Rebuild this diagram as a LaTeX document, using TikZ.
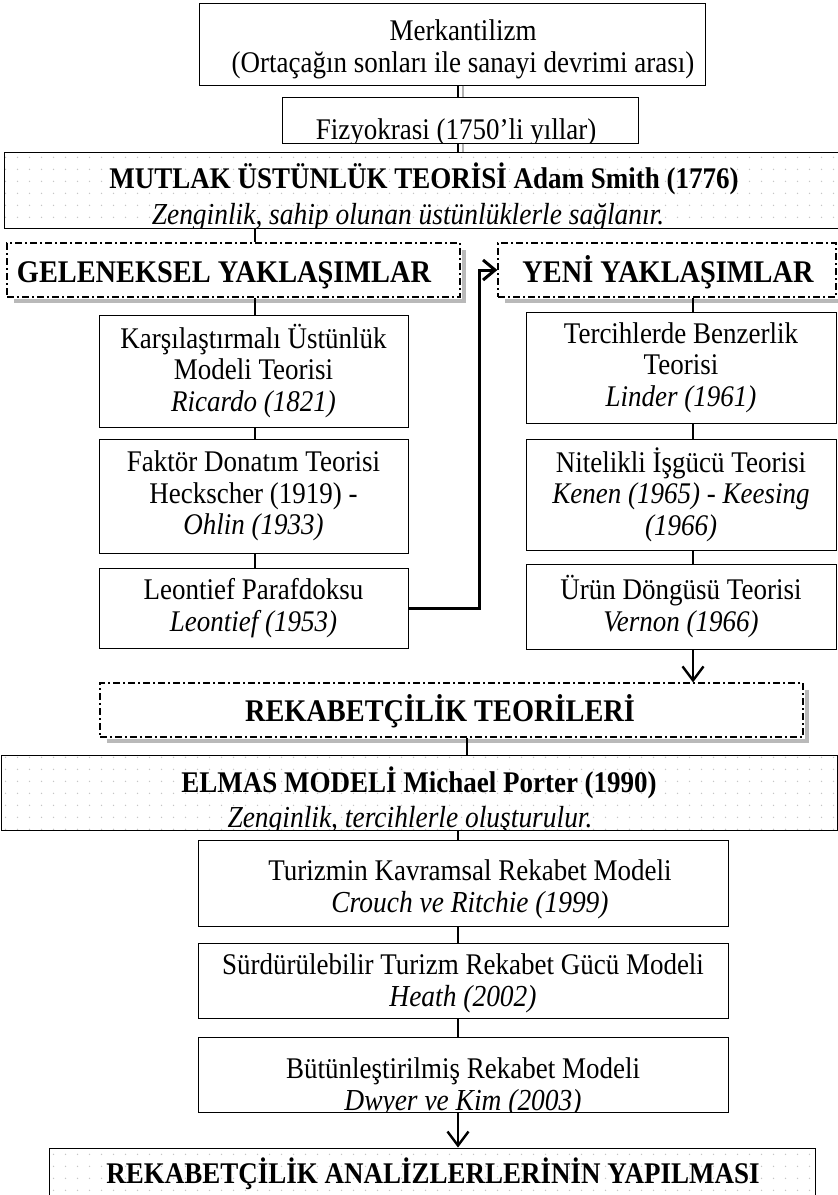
\documentclass[tikz,border=0pt]{standalone}
\usepackage{fontspec}
\setmainfont{Liberation Serif}[FakeStretch=0.9]
\usetikzlibrary{arrows.meta,patterns.meta,calc}
\tikzdeclarepattern{name=sparsedots, type=uncolored,
  bounding box={(0pt,0pt) and (12pt,12pt)}, tile size={(12pt,12pt)},
  code={\fill (6pt,6pt) circle (0.8pt);}}
\tikzset{
  plainbox/.style={draw, line width=1pt, align=center, inner sep=0pt, fill=white},
  dotbox/.style={draw, line width=1pt, inner sep=0pt, pattern=sparsedots, pattern color=gray!45},
  dashbox/.style={draw, line width=1.2pt, inner sep=0pt, fill=white, align=center,
    dash pattern=on 7pt off 3pt on 2pt off 3pt},
  shadowline/.style={draw=gray!55, line width=4pt},
  conn/.style={line width=2.4pt},
  grayconn/.style={draw=gray!60, line width=2pt},
  thickconn/.style={line width=3pt},
  arr/.style={line width=2.4pt, -{Straight Barb[length=14pt,width=21pt]}},
  txt/.style={inner sep=0pt, anchor=base, align=center},
  boldtxt/.style={txt, font=\fontsize{30}{32}\selectfont\bfseries},
  headtxt/.style={txt, font=\fontsize{31.5}{33}\selectfont\bfseries},
  ittxt/.style={txt, font=\fontsize{30.5}{32}\selectfont\itshape}
}
\begin{document}
\begin{tikzpicture}[x=1pt,y=-1pt, font=\fontsize{30}{31.5}\selectfont]
\useasboundingbox[fill=white] (0,0) rectangle (838,1195);
% coordinates for connector columns
\coordinate (cx) at (458,0);
\coordinate (gx) at (463,0);
\coordinate (lx) at (255,0);
\coordinate (rx) at (693,0);
\coordinate (ex) at (467,0);
\coordinate (bx) at (479,0);

% top boxes
\node[plainbox, minimum width=506pt, minimum height=82pt] (merk) at (452,44) {};
\node[txt] (merk1) at (463,40) {Merkantilizm};
\node[txt] (merk2) at (463,72) {(Ortaçağın sonları ile sanayi devrimi arası)};
\node[plainbox, minimum width=356pt, minimum height=46pt] (fiz) at (460,120) {};
\begin{scope}
  \clip (fiz.north west) rectangle (fiz.south east);
  \node[txt] (fizt) at (456,139) {Fizyokrasi (1750’li yıllar)};
\end{scope}

% Mutlak
\node[dotbox, minimum width=834pt, minimum height=76pt] (mut) at (421,190) {};
\begin{scope}
  \clip (mut.north west) rectangle (mut.south east);
  \node[boldtxt] (mut1) at (424,188) {MUTLAK ÜSTÜNLÜK TEORİSİ Adam Smith (1776)};
  \node[ittxt] (mut2) at (408,224) {Zenginlik, sahip olunan üstünlüklerle sağlanır.};
\end{scope}

% approach boxes
\draw[shadowline] (464,250) -- (464,301) -- (14,301);
\node[dashbox, minimum width=453pt, minimum height=54pt] (gel) at (233.5,270) {};
\node[headtxt] (gelt) at (224,282) {GELENEKSEL YAKLAŞIMLAR};
\draw[shadowline] (840,250) -- (840,301) -- (505,301);
\node[dashbox, minimum width=338pt, minimum height=54pt] (yeni) at (667,270) {};
\node[headtxt] (yenit) at (668,282) {YENİ YAKLAŞIMLAR};

% left column
\node[plainbox, minimum width=309pt, minimum height=112pt] (kar) at (253.5,371)
  {Karşılaştırmalı Üstünlük\\Modeli Teorisi\\\textit{Ricardo (1821)}};
\node[plainbox, minimum width=309pt, minimum height=114pt] (fak) at (253.5,496)
  {Faktör Donatım Teorisi\\Heckscher (1919) -\\\textit{Ohlin (1933)}};
\node[plainbox, minimum width=309pt, minimum height=80pt] (leo) at (253.5,608)
  {Leontief Parafdoksu\\\textit{Leontief (1953)}};

% right column
\node[plainbox, minimum width=310pt, minimum height=111pt] (ter) at (681,367.5)
  {Tercihlerde Benzerlik\\Teorisi\\\textit{Linder (1961)}};
\node[plainbox, minimum width=310pt, minimum height=111pt] (nit) at (681,494.5)
  {Nitelikli İşgücü Teorisi\\\textit{Kenen (1965) - Keesing}\\\textit{(1966)}};
\node[plainbox, minimum width=310pt, minimum height=85pt] (urun) at (681,606.5)
  {Ürün Döngüsü Teorisi\\\textit{Vernon (1966)}};

% Rekabetcilik teorileri
\draw[shadowline] (807,690) -- (807,741) -- (107,741);
\node[dashbox, minimum width=703pt, minimum height=54pt] (rek) at (451.5,710) {};
\node[headtxt] (rekt) at (440,721) {REKABETÇİLİK TEORİLERİ};

% Elmas
\node[dotbox, minimum width=836pt, minimum height=75pt] (elm) at (419,792.5) {};
\begin{scope}
  \clip (elm.north west) rectangle (elm.south east);
  \node[boldtxt] (elm1) at (419,792) {ELMAS MODELİ Michael Porter (1990)};
  \node[ittxt] (elm2) at (410,827) {Zenginlik, tercihlerle oluşturulur.};
\end{scope}

% lower column
\node[plainbox, minimum width=530pt, minimum height=86pt] (tur) at (463,883) {};
\node[txt] (tur1) at (470,880) {Turizmin Kavramsal Rekabet Modeli};
\node[ittxt] (tur2) at (470,912) {Crouch ve Ritchie (1999)};
\node[plainbox, minimum width=530pt, minimum height=75pt] (sur) at (463,980.5) {};
\node[txt] (sur1) at (463,974) {Sürdürülebilir Turizm Rekabet Gücü Modeli};
\node[ittxt] (sur2) at (463,1006) {Heath (2002)};
\node[plainbox, minimum width=530pt, minimum height=75pt] (but) at (463,1074.5) {};
\begin{scope}
  \clip (but.north west) rectangle (but.south east);
  \node[txt] (but1) at (463,1078) {Bütünleştirilmiş Rekabet Modeli};
  \node[ittxt] (but2) at (463,1110) {Dwyer ve Kim (2003)};
\end{scope}

% final box
\node[dotbox, minimum width=766pt, minimum height=60pt] (son) at (432,1178) {};
\node[boldtxt] (sont) at (433,1183) {REKABETÇİLİK ANALİZLERLERİNİN YAPILMASI};

% connectors
\draw[grayconn] (merk.south -| gx) -- (fiz.north -| gx);
\draw[grayconn] (fiz.south -| gx) -- (mut.north -| gx);
\draw[conn] (merk.south -| cx) -- (fiz.north -| cx);
\draw[conn] (fiz.south -| cx) -- (mut.north -| cx);
\draw[conn] (mut.south -| lx) -- (gel.north -| lx);
\draw[conn] (gel.south -| lx) -- (kar.north -| lx);
\draw[conn] (kar.south -| lx) -- (fak.north -| lx);
\draw[conn] (fak.south -| lx) -- (leo.north -| lx);
\draw[thickconn, -{Straight Barb[length=12pt,width=20pt]}] (leo.east) -| (bx |- yeni.west) -- (yeni.west);
\draw[conn] (yeni.south -| rx) -- (ter.north -| rx);
\draw[conn] (ter.south -| rx) -- (nit.north -| rx);
\draw[conn] (nit.south -| rx) -- (urun.north -| rx);
\draw[arr] (urun.south -| rx) -- (rek.north -| rx);
\draw[conn] (rek.south -| ex) -- (elm.north -| ex);
\draw[conn] (elm.south -| cx) -- (tur.north -| cx);
\draw[conn] (tur.south -| cx) -- (sur.north -| cx);
\draw[conn] (sur.south -| cx) -- (but.north -| cx);
\draw[arr] (but.south -| cx) -- (son.north -| cx);
\end{tikzpicture}
\end{document}
